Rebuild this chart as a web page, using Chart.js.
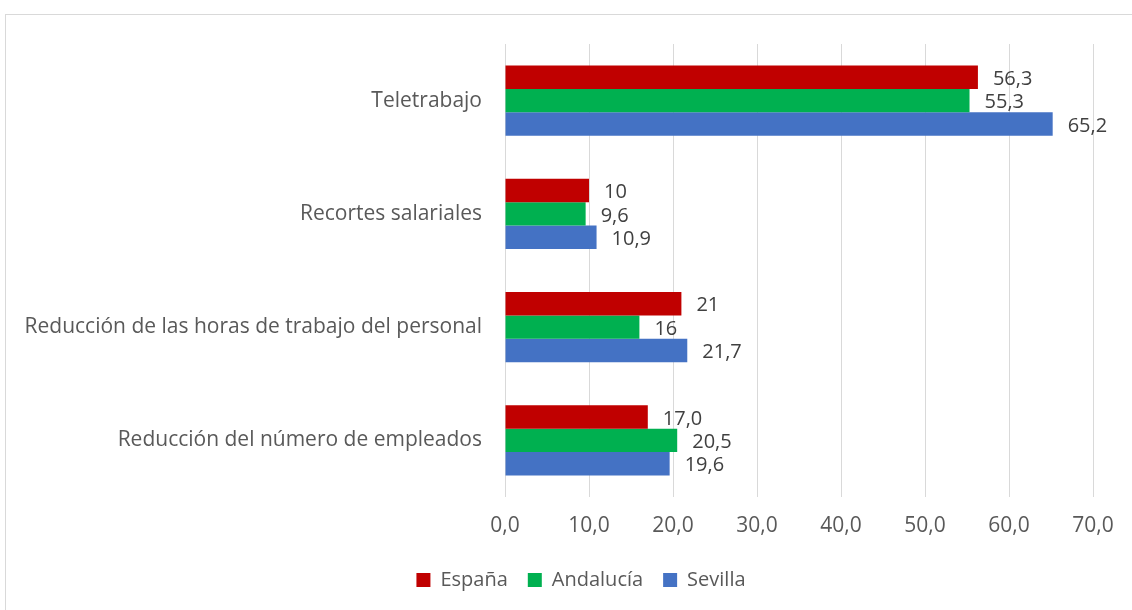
<!DOCTYPE html>
<html lang="es">
<head>
<meta charset="utf-8">
<title>Medidas adoptadas</title>
<script src="https://cdn.jsdelivr.net/npm/chart.js@4/dist/chart.umd.min.js"></script>
<style>
  html, body { margin: 0; padding: 0; background: #fff; overflow: hidden; }
  .frame { position: absolute; left: 5px; top: 14px; width: 1160px; height: 610px; border: 1px solid #d9d9d9; box-sizing: border-box; }
  .wrap { position: absolute; left: 0; top: 0; width: 1162px; height: 610px; }
</style>
</head>
<body>
<div class="frame"></div>
<div class="wrap"><canvas id="chart"></canvas></div>
<script>
// categorias y valores (texto tal como se rotula)
const categorias = [
  'Teletrabajo',
  'Recortes salariales',
  'Reducción de las horas de trabajo del personal',
  'Reducción del número de empleados'
];
const espana    = ['56,3', '10',  '21',   '17,0'];
const andalucia = ['55,3', '9,6', '16',   '20,5'];
const sevilla   = ['65,2', '10,9', '21,7', '19,6'];
const ticksX = [0, 10, 20, 30, 40, 50, 60, 70];

const aNumero = s => parseFloat(s.replace(',', '.'));
const gris = '#595959';
const fuente = '"Open Sans", "Noto Sans", sans-serif';

function serie(nombre, textos, color) {
  return {
    label: nombre,
    data: textos.map(aNumero),
    etiquetas: textos,
    backgroundColor: color,
    borderWidth: 0,
    barPercentage: 1,
    categoryPercentage: 0.62
  };
}

// rotulos de valor a la derecha de cada barra
const rotulos = {
  id: 'rotulos',
  afterDatasetsDraw(chart) {
    const ctx = chart.ctx;
    ctx.save();
    ctx.font = '20px ' + fuente;
    ctx.fillStyle = '#404040';
    ctx.textAlign = 'left';
    ctx.textBaseline = 'middle';
    chart.data.datasets.forEach((ds, i) => {
      chart.getDatasetMeta(i).data.forEach((bar, j) => {
        ctx.fillText(ds.etiquetas[j], bar.x + 15, bar.y + 2);
      });
    });
    ctx.restore();
  }
};

new Chart(document.getElementById('chart'), {
  type: 'bar',
  data: {
    labels: categorias,
    datasets: [
      serie('España', espana, '#c00000'),
      serie('Andalucía', andalucia, '#00b050'),
      serie('Sevilla', sevilla, '#4472c4')
    ]
  },
  options: {
    indexAxis: 'y',
    responsive: true,
    maintainAspectRatio: false,
    animation: false,
    layout: { padding: { top: 44, right: 0, bottom: 10, left: 0 } },
    scales: {
      x: {
        min: 0,
        max: 70,
        afterBuildTicks: axis => { axis.ticks = ticksX.map(v => ({ value: v })); },
        afterFit: axis => { axis.height = 53; },
        grid: { color: '#d9d9d9', lineWidth: 1, drawTicks: false },
        border: { display: false },
        ticks: {
          padding: 16,
          color: gris,
          font: { family: fuente, size: 21 },
          callback: v => v.toFixed(1).replace('.', ',')
        }
      },
      y: {
        afterFit: axis => { axis.width = 505; },
        grid: { display: false, drawTicks: false },
        border: { display: false },
        ticks: {
          padding: 23,
          color: gris,
          font: { family: fuente, size: 21 }
        }
      },
      // margen derecho vacio: deja la leyenda centrada en todo el marco
      margen: {
        axis: 'y',
        type: 'category',
        position: 'right',
        afterFit: axis => { axis.width = 69; },
        grid: { display: false, drawTicks: false },
        border: { display: false },
        ticks: { display: false }
      }
    },
    plugins: {
      legend: {
        position: 'bottom',
        labels: {
          boxWidth: 14,
          boxHeight: 14,
          padding: 20,
          color: gris,
          font: { family: fuente, size: 20 }
        }
      },
      tooltip: { enabled: false }
    }
  },
  plugins: [rotulos]
});
</script>
</body>
</html>
